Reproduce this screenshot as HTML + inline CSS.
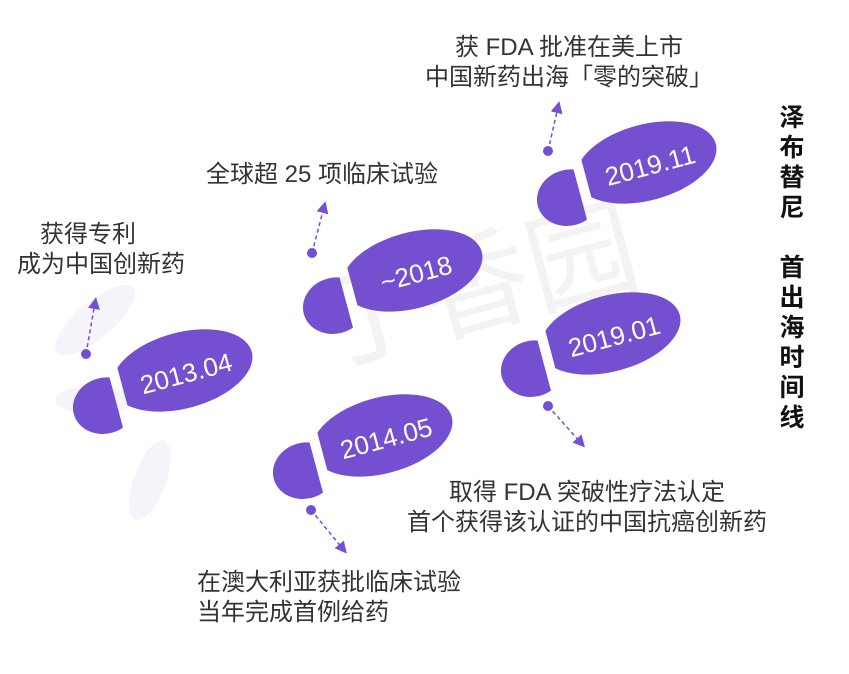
<!DOCTYPE html>
<html><head><meta charset="utf-8"><style>
body{margin:0;width:849px;height:674px;background:#fff;overflow:hidden;position:relative;font-family:"Liberation Sans","Noto Sans CJK SC",sans-serif;}
.t{position:absolute;color:#333;font-size:24px;white-space:nowrap;line-height:30px}
.c{transform:translateX(-50%)}
.v{position:absolute;left:773px;top:104px;writing-mode:vertical-rl;font-size:25px;font-weight:bold;color:#111;letter-spacing:5px;line-height:34px}
</style></head><body>
<svg width="849" height="674" style="position:absolute;left:0;top:0">
<defs>
<g id="fp">
<clipPath id="cs"><rect x="-40" y="-60" width="200" height="120"/></clipPath>
<clipPath id="ch"><rect x="-120" y="-60" width="70" height="120"/></clipPath>
<ellipse cx="22" cy="-4" rx="72" ry="38" fill="#7450d0" clip-path="url(#cs)"/>
<ellipse cx="-62" cy="10" rx="32" ry="28" fill="#7450d0" clip-path="url(#ch)"/>
</g>
<marker id="ar" markerWidth="8" markerHeight="8" refX="4" refY="4" orient="auto"><path d="M0,0L8,4L0,8z" fill="#7450d0"/></marker>
</defs>
<g fill="#f5f4fa">
<ellipse cx="95" cy="320" rx="50" ry="18" transform="rotate(-40 95 320)"/>
<ellipse cx="150" cy="480" rx="16" ry="42" transform="rotate(20 150 480)"/>
<ellipse cx="95" cy="400" rx="40" ry="14"/>
</g>
<text x="300" y="330" font-size="110" fill="#f3f3f3" transform="rotate(-15 450 250)" font-family="Noto Sans CJK SC">丁香园</text>
<g transform="translate(162,380) rotate(-15)"><use href="#fp"/><text x="25" y="9" fill="#fff" font-size="26" text-anchor="middle">2013.04</text></g>
<g transform="translate(362,445) rotate(-15)"><use href="#fp"/><text x="25" y="9" fill="#fff" font-size="26" text-anchor="middle">2014.05</text></g>
<g transform="translate(392,280) rotate(-15)"><use href="#fp"/><text x="25" y="9" fill="#fff" font-size="26" text-anchor="middle">~2018</text></g>
<g transform="translate(590,343) rotate(-15)"><use href="#fp"/><text x="25" y="9" fill="#fff" font-size="26" text-anchor="middle">2019.01</text></g>
<g transform="translate(626,172) rotate(-15)"><use href="#fp"/><text x="25" y="9" fill="#fff" font-size="26" text-anchor="middle">2019.11</text></g>
<g stroke="#7450d0" stroke-width="1.5" stroke-dasharray="4,3" fill="none" marker-end="url(#ar)">
<line x1="86" y1="354" x2="95" y2="303"/>
<line x1="312" y1="253" x2="324" y2="207"/>
<line x1="548" y1="151" x2="558" y2="107"/>
<line x1="311" y1="510" x2="343" y2="549"/>
<line x1="548" y1="406" x2="581" y2="443"/>
</g>
<g fill="#7450d0"><circle cx="86" cy="354" r="5"/><circle cx="312" cy="253" r="5"/><circle cx="548" cy="151" r="5"/><circle cx="311" cy="510" r="5"/><circle cx="548" cy="406" r="5"/></g>
</svg>
<div class="t c" style="left:569px;top:33px;text-align:center">获 FDA 批准在美上市<br>中国新药出海「零的突破」</div>
<div class="t c" style="left:322px;top:160px">全球超 25 项临床试验</div>
<div class="t" style="left:40px;top:220px">获得专利</div>
<div class="t" style="left:17px;top:250px">成为中国创新药</div>
<div class="t c" style="left:587px;top:478px;text-align:center">取得 FDA 突破性疗法认定<br>首个获得该认证的中国抗癌创新药</div>
<div class="t" style="left:197px;top:568px">在澳大利亚获批临床试验<br>当年完成首例给药</div>
<div class="v">泽布替尼　首出海时间线</div>
</body></html>
